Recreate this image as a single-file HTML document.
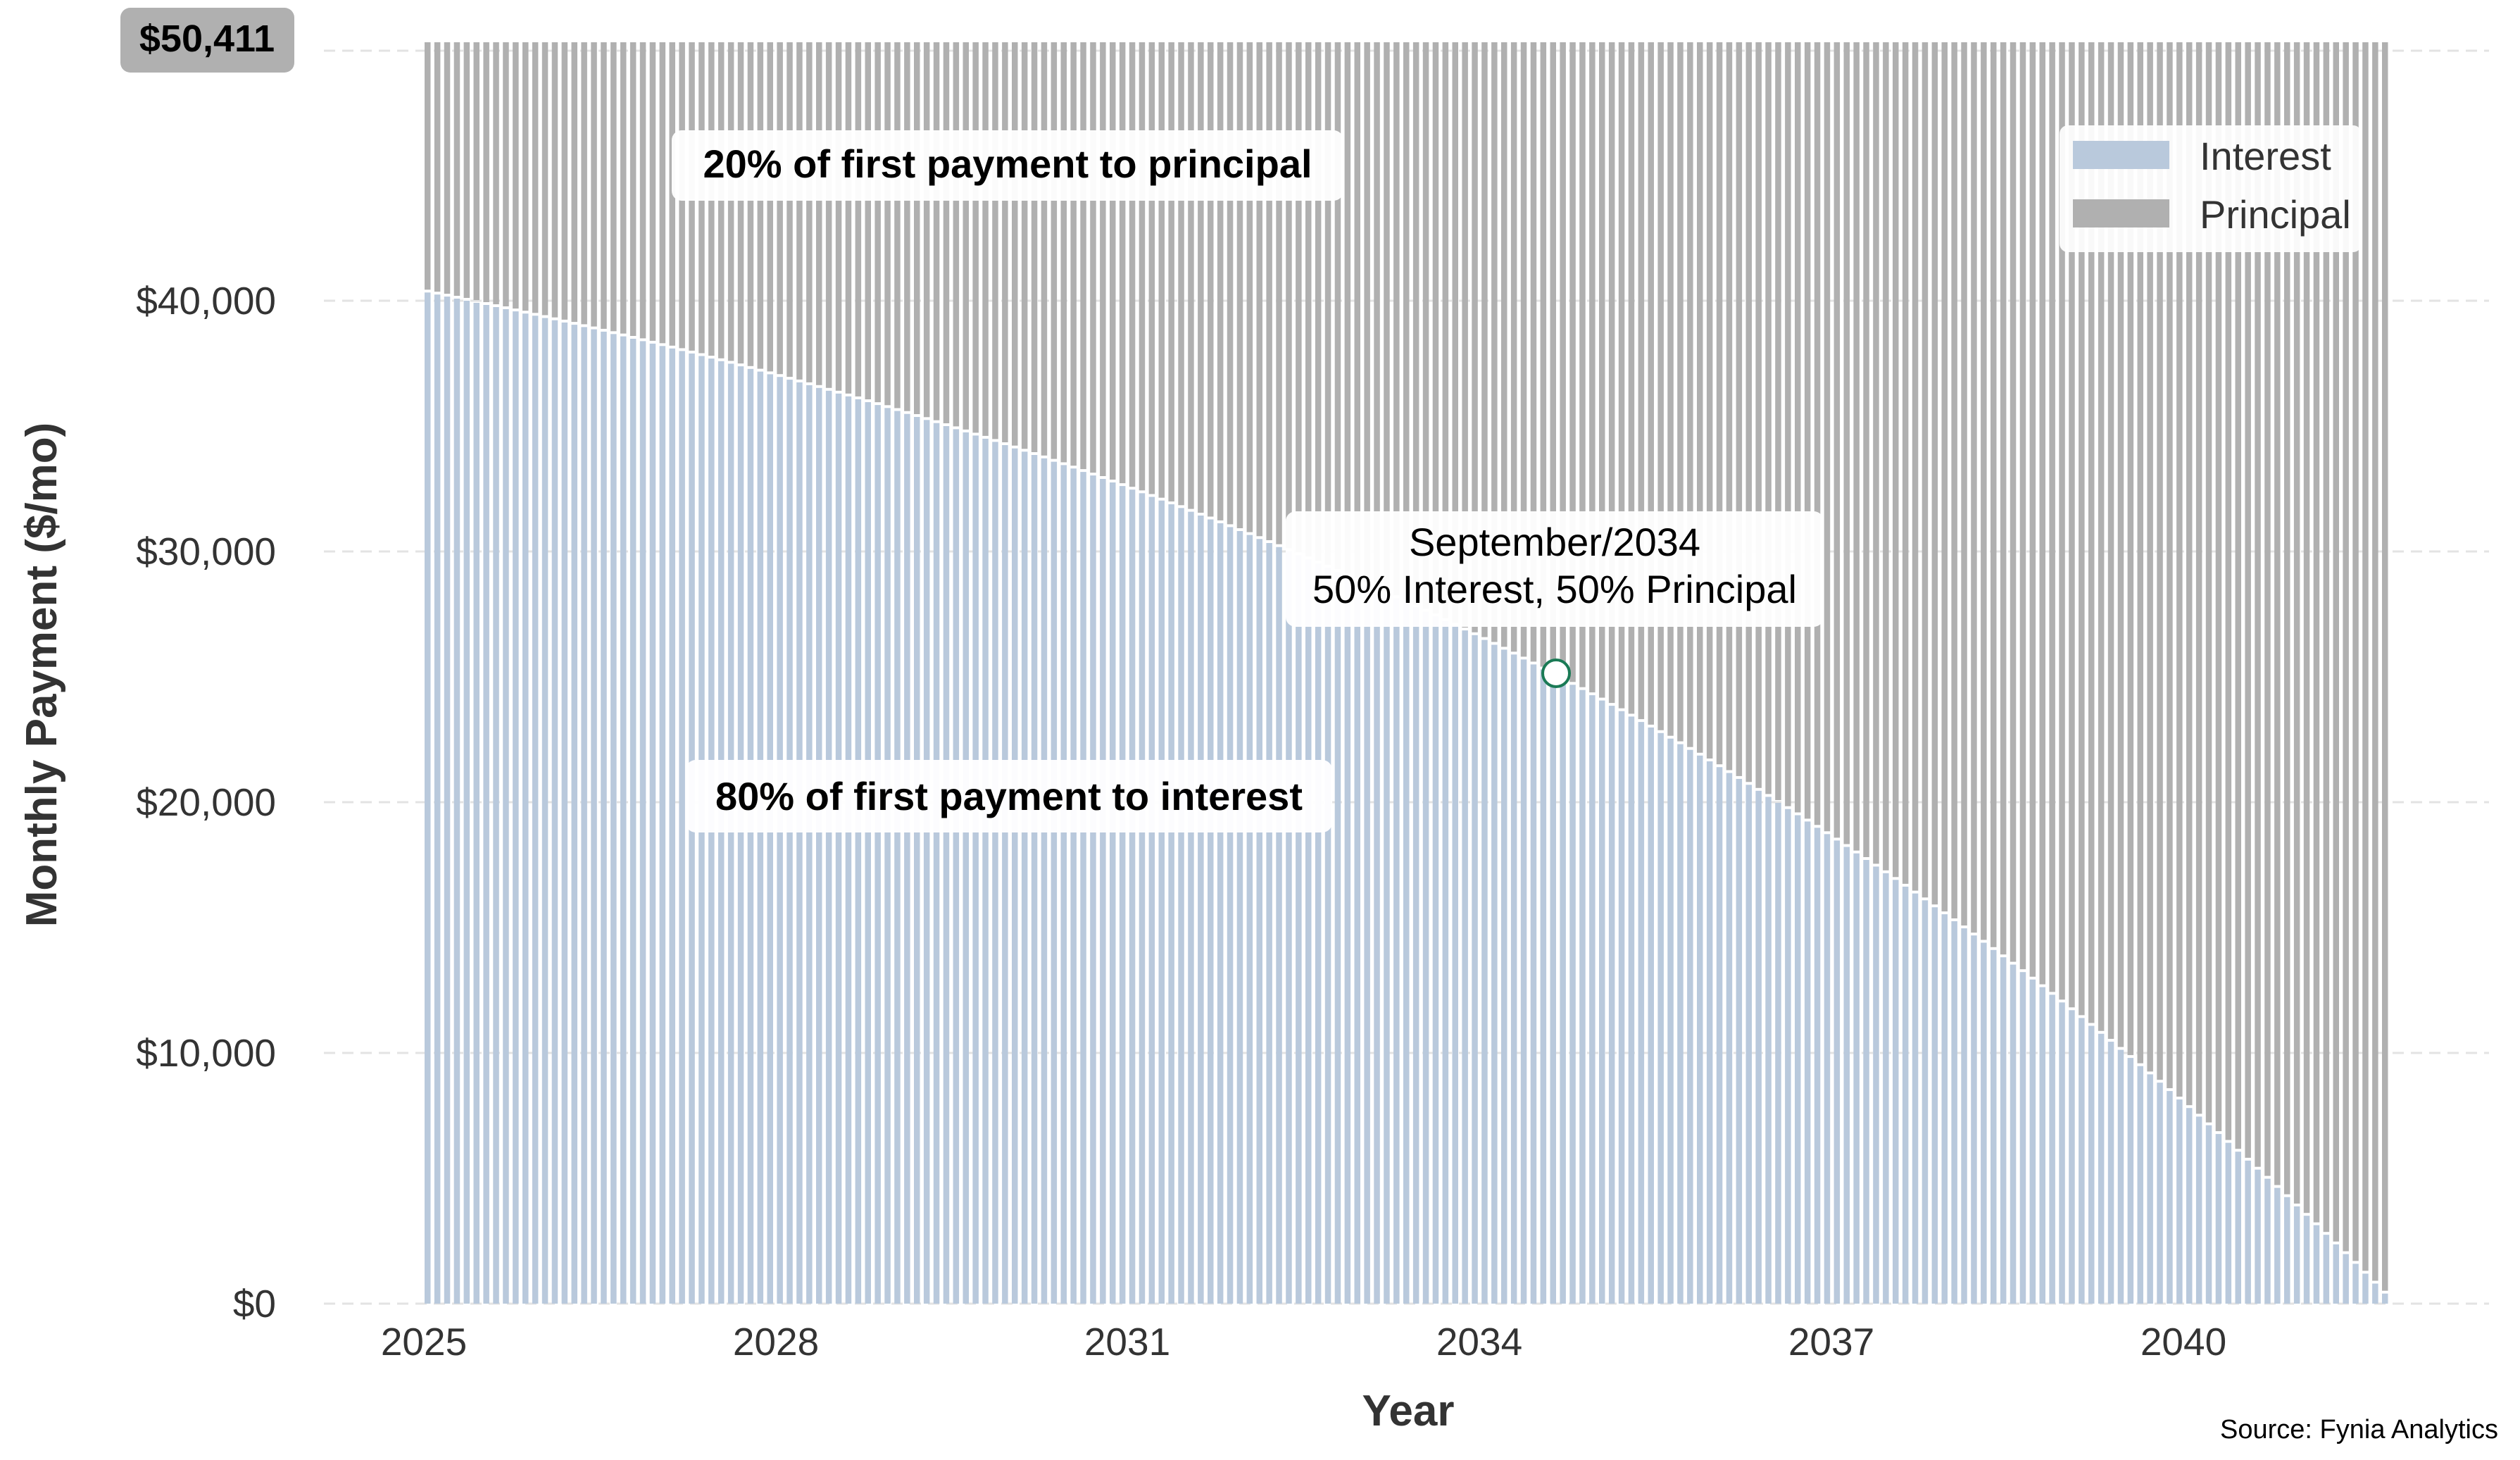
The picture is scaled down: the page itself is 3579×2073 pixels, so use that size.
<!DOCTYPE html>
<html><head><meta charset="utf-8"><style>
html,body{margin:0;padding:0;background:#fff;}
svg{display:block;font-family:"Liberation Sans",Arial,sans-serif;}
</style></head><body>
<svg id="c" width="3579" height="2073" viewBox="0 0 3579 2073" xmlns="http://www.w3.org/2000/svg">
<g stroke="#e3e3e3" stroke-width="3" stroke-dasharray="16,10">
<line x1="460" y1="1851" x2="3535" y2="1851"/>
<line x1="460" y1="1495" x2="3535" y2="1495"/>
<line x1="460" y1="1139" x2="3535" y2="1139"/>
<line x1="460" y1="783" x2="3535" y2="783"/>
<line x1="460" y1="427" x2="3535" y2="427"/>
<line x1="460" y1="72" x2="3535" y2="72"/>
</g>
<g id="bars"></g>
<g font-size="55" fill="#333" text-anchor="end">
<text x="392" y="1870">$0</text>
<text x="392" y="1514">$10,000</text>
<text x="392" y="1158">$20,000</text>
<text x="392" y="802">$30,000</text>
<text x="392" y="446">$40,000</text>
</g>
<rect x="171" y="11" width="247" height="92" rx="14" fill="#b0b0b0"/>
<text x="294" y="73" font-size="54" font-weight="bold" text-anchor="middle" fill="#000">$50,411</text>
<g font-size="55" fill="#333" text-anchor="middle">
<text x="602" y="1924">2025</text>
<text x="1102" y="1924">2028</text>
<text x="1601" y="1924">2031</text>
<text x="2101" y="1924">2034</text>
<text x="2601" y="1924">2037</text>
<text x="3101" y="1924">2040</text>
</g>
<text x="2000" y="2024" font-size="62" font-weight="bold" fill="#333" text-anchor="middle">Year</text>
<text transform="translate(80,958) rotate(-90)" font-size="62" font-weight="bold" fill="#333" text-anchor="middle">Monthly Payment ($/mo)</text>
<text x="3548" y="2042" font-size="38" fill="#000" text-anchor="end">Source: Fynia Analytics</text>
<rect x="2925" y="178" width="429" height="180" rx="12" fill="#fff" opacity="0.92"/>
<rect x="2944" y="200" width="137" height="40" fill="#b9c9dc"/>
<rect x="2944" y="283" width="137" height="40" fill="#b0b0b0"/>
<text x="3124" y="241" font-size="56" fill="#333">Interest</text>
<text x="3124" y="324" font-size="56" fill="#333">Principal</text>
<rect x="954" y="185" width="954" height="100" rx="14" fill="#fff" opacity="0.95"/>
<text x="1431" y="252" font-size="56" font-weight="bold" text-anchor="middle" fill="#000">20% of first payment to principal</text>
<rect x="974" y="1079" width="918" height="103" rx="14" fill="#fff" opacity="0.95"/>
<text x="1433" y="1150" font-size="56" font-weight="bold" text-anchor="middle" fill="#000">80% of first payment to interest</text>
<rect x="1826" y="726" width="764" height="164" rx="14" fill="#fff" opacity="0.95"/>
<text x="2208" y="789" font-size="56" text-anchor="middle" fill="#000">September/2034</text>
<text x="2208" y="856" font-size="56" text-anchor="middle" fill="#000">50% Interest, 50% Principal</text>
<circle cx="2210" cy="956" r="19" fill="#fff" stroke="#1a7a55" stroke-width="4"/>
</svg>
<script>
(function(){
var g=document.getElementById('bars');
var n=201,r=Math.pow(0.2,-1/n)-1,P=50411,y0=1851,k=0.0356,top=60,h='';
for(var i=0;i<n;i++){
 var pf=Math.pow(1+r,-(n-i));
 var I=P*(1-pf);
 var x=603+i*13.9;
 var yi=y0-I*k;
 h+='<rect x="'+x.toFixed(1)+'" y="'+yi.toFixed(1)+'" width="8.5" height="'+(y0-yi).toFixed(1)+'" fill="#b9c9dc"/>';
 var pe=yi-4;
 if(pe>top) h+='<rect x="'+x.toFixed(1)+'" y="'+top+'" width="8.5" height="'+(pe-top).toFixed(1)+'" fill="#b0b0b0"/>';
}
g.innerHTML=h;
})();
</script>
</body></html>
